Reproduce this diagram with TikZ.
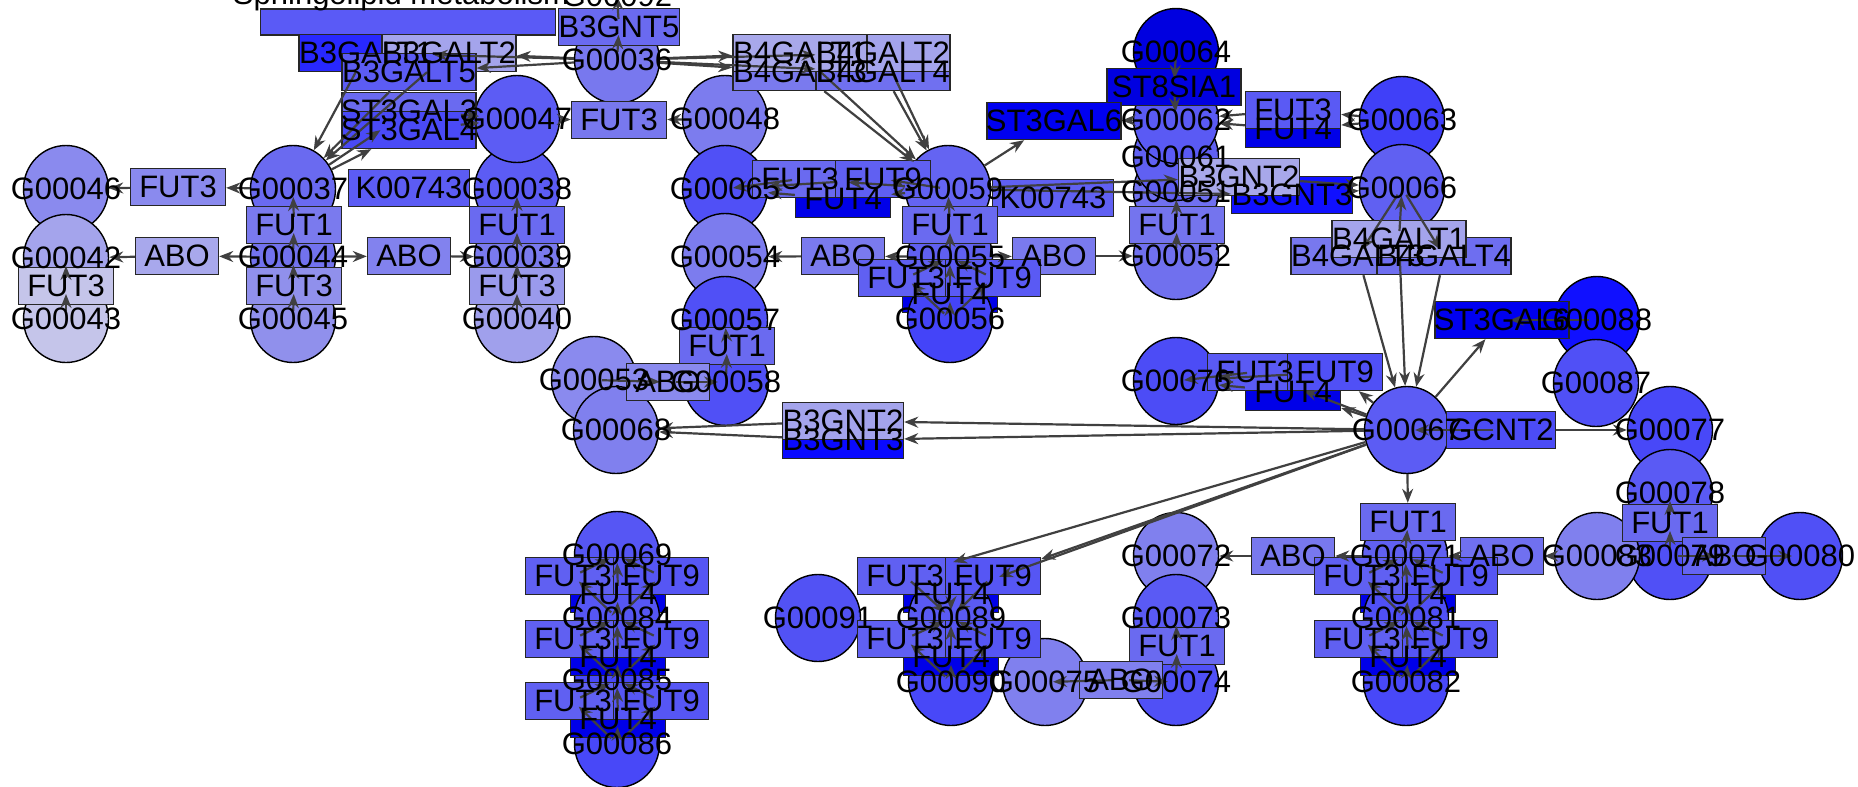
\documentclass[tikz,border=0pt]{standalone}
\usepackage{fontspec}
\setmainfont{Liberation Sans}
\usetikzlibrary{shapes.geometric,arrows.meta}
\tikzset{
 cpd/.style={ellipse, draw=black, line width=1.4pt, minimum width=85pt, minimum height=87pt, inner sep=0pt},
 enz/.style={rectangle, draw=black!85, line width=1.4pt, minimum height=37pt, inner sep=0pt},
 lbl/.style={inner sep=0pt, font=\fontsize{31}{31}\selectfont, text=black},
 edge/.style={draw=black!75, line width=2.2pt, -{Stealth[length=14pt,width=11pt]}},
 cedge/.style={edge, shorten >=8pt, shorten <=8pt},
}
\newcommand\mkcpd[4]{\definecolor{k#1}{HTML}{#4}\node[cpd,fill=k#1] (#1) at (#2,#3) {};}
\newcommand\mkenz[5]{\definecolor{k#1}{HTML}{#5}\node[enz,fill=k#1,minimum width=#4pt] (#1) at (#2,#3) {};}
\newcommand\edgeB[2]{\draw[edge] (#1) -- (#2);}
\newcommand\edgeC[2]{\draw[cedge] (#1.center) -- (#2.center);}
\begin{document}
\begin{tikzpicture}[x=1pt,y=-1pt]
\fill[white] (0,0) rectangle (1858,787);
\useasboundingbox (0,0) rectangle (1858,787);
% boxes partly hidden by compounds
\mkenz{f4n55}{950}{294}{95}{0000E8}
\mkenz{f4n89}{951}{594}{95}{0000E8}
\mkenz{f4n81}{1408}{594}{95}{0000E8}
\mkenz{f4n84}{618}{594}{95}{0000E8}
\definecolor{ksph}{HTML}{5A5AF6}
\node[enz,fill=ksph,minimum width=295pt,minimum height=26pt] (sph) at (408,22) {};
% compounds
\mkcpd{c46}{66}{189}{8A8AEE}
\mkcpd{c42}{66}{258}{A4A4EC}
\mkcpd{c43}{66}{319}{C5C5EA}
\mkcpd{c37}{293}{189}{6A6AF0}
\mkcpd{c44}{293}{257}{7272EE}
\mkcpd{c45}{293}{319}{9090EC}
\mkcpd{c38}{517}{189}{5C5CF4}
\mkcpd{c39}{517}{257}{7A7AEE}
\mkcpd{c40}{517}{319}{A0A0EC}
\mkcpd{c47}{517}{119}{5C5CF4}
\mkcpd{c36}{617}{60}{7878EE}
\mkcpd{c48}{725}{119}{7C7CEE}
\mkcpd{c65}{725}{189}{5050F6}
\mkcpd{c54}{725}{257}{7C7CEE}
\mkcpd{c57}{725}{320}{5050F6}
\mkcpd{c58}{726}{382}{5050F6}
\mkcpd{c53}{594}{380}{8A8AEE}
\mkcpd{c68}{616}{430}{8080EE}
\mkcpd{c59}{948}{189}{6464F2}
\mkcpd{c55}{950}{257}{6060F0}
\mkcpd{c56}{950}{319}{4444F8}
\mkcpd{c64}{1176}{52}{0000E0}
\mkcpd{c52}{1176}{256}{7070EE}
\mkcpd{c51}{1176}{192}{7070F0}
\mkcpd{c61}{1176}{157}{6060F2}
\mkcpd{c62}{1176}{120}{5A5AF4}
\mkcpd{c63}{1402}{120}{4040F8}
\mkcpd{c66}{1402}{188}{6060F2}
\mkcpd{c88}{1597}{320}{1010FF}
\mkcpd{c87}{1596}{383}{5050F6}
\mkcpd{c77}{1670}{430}{4848F8}
\mkcpd{c78}{1670}{493}{5A5AF4}
\mkcpd{c79}{1670}{556}{5050F6}
\mkcpd{c80}{1800}{556}{5050F6}
\mkcpd{c83}{1597}{556}{8080EE}
\mkcpd{c67}{1407}{430}{5C5CF4}
\mkcpd{c76}{1176}{381}{4C4CF6}
\mkcpd{c71}{1405}{556}{6060F2}
\mkcpd{c72}{1176}{556}{8080EE}
\mkcpd{c73}{1176}{618}{5A5AF4}
\mkcpd{c74}{1176}{682}{5050F6}
\mkcpd{c75}{1045}{682}{8080EE}
\mkcpd{c81}{1406}{618}{5050F6}
\mkcpd{c82}{1406}{682}{4848F8}
\mkcpd{c89}{951}{618}{5A5AF4}
\mkcpd{c90}{951}{682}{4848F8}
\mkcpd{c91}{818}{618}{5252F4}
\mkcpd{c69}{617}{555}{5656F4}
\mkcpd{c84}{617}{618}{5656F4}
\mkcpd{c85}{617}{680}{4848F8}
\mkcpd{c86}{617}{744}{4848F8}
\coordinate (c92) at (617,-4);
% enzymes
\mkenz{f3n46}{178}{187}{95}{8A8AEE}
\mkenz{f3n42}{66}{286}{95}{C5C5EA}
\mkenz{ab42}{177}{256}{83}{A8A8EC}
\mkenz{f1n37}{294}{225}{95}{7A7AEE}
\mkenz{f3n44}{294}{286}{95}{9090EC}
\mkenz{ab39}{409}{256}{83}{8282EE}
\mkenz{k1}{409}{188}{121}{5C5CF4}
\mkenz{f1n38}{517}{225}{95}{6A6AF0}
\mkenz{f3n39}{517}{286}{95}{9A9AEC}
\mkenz{st3}{409}{111}{134}{6A6AF0}
\mkenz{st4}{409}{130}{134}{4A4AF6}
\mkenz{bt1}{366}{53}{134}{2828FF}
\mkenz{bt2}{449}{53}{134}{A4A4EC}
\mkenz{bt5}{409}{72}{134}{5C5CF4}
\mkenz{bn5}{619}{27}{121}{6A6AF0}
\mkenz{f3n48}{619}{120}{95}{7878EE}
\mkenz{gt3}{800}{72}{134}{7A7AEE}
\mkenz{gt4}{883}{72}{134}{7070F0}
\mkenz{gt2}{883}{53}{134}{A4A4EC}
\mkenz{gt1}{800}{53}{134}{A8A8EA}
\mkenz{f4n65}{843}{199}{95}{0000E8}
\mkenz{f3n65}{800}{179}{95}{6A6AF0}
\mkenz{f9n65}{883}{179}{95}{6060F2}
\mkenz{k2}{1053}{198}{121}{6060F2}
\mkenz{f1n59}{950}{225}{95}{6A6AF0}
\mkenz{ab54}{843}{256}{83}{7A7AEE}
\mkenz{ab52}{1054}{256}{83}{7A7AEE}
\mkenz{f3n55}{906}{278}{95}{6060F2}
\mkenz{f9n55}{993}{278}{95}{5A5AF4}
\mkenz{f1n57}{727}{346}{95}{6A6AF0}
\mkenz{ab53}{668}{382}{83}{8A8AEE}
\mkenz{bn3a}{843}{440}{121}{0A0AFF}
\mkenz{bn2a}{843}{421}{121}{A4A4EC}
\mkenz{st8}{1174}{87}{134}{0000E0}
\mkenz{st6a}{1054}{121}{134}{0000F0}
\mkenz{f4n62}{1293}{129}{95}{0000E8}
\mkenz{f3n62}{1293}{110}{95}{5A5AF4}
\mkenz{f1n52}{1177}{225}{95}{7474EE}
\mkenz{bn3b}{1292}{195}{121}{1010FF}
\mkenz{bn2b}{1239}{177}{121}{A8A8EA}
\mkenz{gt3b}{1358}{256}{134}{7878EE}
\mkenz{gt4b}{1444}{256}{134}{6E6EF0}
\mkenz{gt1b}{1399}{239}{134}{A4A4EC}
\mkenz{st6b}{1502}{320}{134}{0000F0}
\mkenz{gc}{1501}{430}{109}{4C4CF6}
\mkenz{f4n76}{1293}{392}{95}{0000E8}
\mkenz{f3n76}{1255}{372}{95}{5A5AF4}
\mkenz{f9n76}{1335}{372}{95}{5050F6}
\mkenz{f1n71}{1408}{522}{95}{6A6AF0}
\mkenz{ab72}{1293}{556}{83}{7878EE}
\mkenz{ab83}{1502}{556}{83}{7070F0}
\mkenz{f1n78}{1670}{523}{95}{6A6AF0}
\mkenz{ab80}{1724}{556}{83}{6464F2}
\mkenz{f3n81}{1362}{576}{95}{6060F2}
\mkenz{f9n81}{1450}{576}{95}{5656F4}
\mkenz{f4n82}{1408}{657}{95}{0000E8}
\mkenz{f3n82}{1362}{639}{95}{6060F2}
\mkenz{f9n82}{1450}{639}{95}{5656F4}
\mkenz{f1n73}{1177}{646}{95}{6A6AF0}
\mkenz{ab75}{1121}{680}{83}{8080EE}
\mkenz{f3n89}{905}{576}{95}{6060F2}
\mkenz{f9n89}{993}{576}{95}{5656F4}
\mkenz{f4n90}{951}{657}{95}{0000E8}
\mkenz{f3n90}{905}{639}{95}{6060F2}
\mkenz{f9n90}{993}{639}{95}{5656F4}
\mkenz{f3n84}{573}{576}{95}{6060F2}
\mkenz{f9n84}{661}{576}{95}{5656F4}
\mkenz{f4n85}{618}{657}{95}{0000E8}
\mkenz{f3n85}{573}{639}{95}{6060F2}
\mkenz{f9n85}{661}{639}{95}{5656F4}
\mkenz{f4n86}{618}{719}{95}{0000E8}
\mkenz{f3n86}{573}{701}{95}{6060F2}
\mkenz{f9n86}{661}{701}{95}{5656F4}
% connectors
\edgeB{c37}{f3n46}\edgeB{f3n46}{c46}
\edgeC{c44}{f1n37}\edgeC{f1n37}{c37}
\edgeC{c45}{f3n44}\edgeC{f3n44}{c44}
\edgeB{c44}{ab42}\edgeB{ab42}{c42}
\edgeC{c43}{f3n42}\edgeC{f3n42}{c42}
\edgeB{c44}{ab39}\edgeB{ab39}{c39}
\edgeC{c40}{f3n39}\edgeC{f3n39}{c39}
\edgeC{c39}{f1n38}\edgeC{f1n38}{c38}
\edgeB{c36}{bt1}\edgeB{c36}{bt2}\edgeB{c36}{bt5}
\edgeB{bt1}{c37}\edgeB{bt2}{c37}\edgeB{bt5}{c37}
\edgeB{c37}{st3}\edgeB{c37}{st4}
\draw[edge,shorten <=52pt,shorten >=38pt] (st3.center) -- (c47.center);
\draw[edge,shorten <=52pt,shorten >=38pt] (st4.center) -- (c47.center);
\edgeB{c47}{f3n48}\edgeB{c48}{f3n48}
\edgeC{c36}{bn5}
\draw[edge,shorten <=8pt] (bn5.center) -- (c92);
\edgeB{c36}{gt1}\edgeB{c36}{gt2}\edgeB{c36}{gt3}\edgeB{c36}{gt4}
\edgeB{gt1}{c59}\edgeB{gt2}{c59}\edgeB{gt3}{c59}\edgeB{gt4}{c59}
\edgeB{c59}{f3n65}\edgeC{c59}{f9n65}\edgeB{c59}{f4n65}
\edgeC{f3n65}{c65}\edgeB{f9n65}{c65}\edgeB{f4n65}{c65}
\edgeC{c55}{f1n59}\edgeC{f1n59}{c59}
\edgeB{c55}{ab54}\edgeB{ab54}{c54}
\edgeB{c55}{ab52}\edgeB{ab52}{c52}
\edgeC{c56}{f3n55}\edgeC{c56}{f9n55}\edgeC{c56}{f4n55}
\edgeC{f3n55}{c55}\edgeC{f9n55}{c55}\edgeC{f4n55}{c55}
\edgeC{c58}{f1n57}\edgeC{f1n57}{c57}
\edgeC{c53}{ab53}\edgeC{ab53}{c58}
\edgeB{c67}{bn2a}\edgeB{c67}{bn3a}\edgeB{bn2a}{c68}\edgeB{bn3a}{c68}
\edgeB{c59}{bn2b}\edgeB{c59}{bn3b}\edgeB{bn2b}{c66}\edgeB{bn3b}{c66}
\edgeB{c59}{st6a}\edgeB{c62}{st6a}
\edgeC{c64}{st8}\edgeC{st8}{c62}
\edgeB{c63}{f3n62}\edgeB{c63}{f4n62}\edgeB{f3n62}{c62}\edgeB{f4n62}{c62}
\edgeC{c52}{f1n52}\edgeC{f1n52}{c51}
\edgeC{c66}{gt3b}\edgeC{c66}{gt4b}\edgeC{gt1b}{c66}
\edgeB{gt1b}{c67}\edgeB{gt3b}{c67}\edgeB{gt4b}{c67}
\edgeB{c67}{st6b}\edgeC{c88}{st6b}
\edgeC{gc}{c67}\edgeB{gc}{c77}
\edgeB{c67}{f3n76}\edgeB{c67}{f9n76}\edgeB{c67}{f4n76}
\edgeC{f3n76}{c76}\edgeB{f9n76}{c76}\edgeB{f4n76}{c76}
\edgeB{c67}{f3n89}\edgeB{c67}{f9n89}\edgeB{c67}{f4n89}
\edgeC{f3n89}{c89}\edgeC{f9n89}{c89}\edgeC{f4n89}{c89}
\edgeC{c90}{f3n90}\edgeC{c90}{f9n90}\edgeC{c90}{f4n90}
\edgeC{f3n90}{c89}\edgeC{f9n90}{c89}\edgeC{f4n90}{c89}
\edgeB{c67}{f1n71}\edgeC{c71}{f1n71}
\edgeB{c71}{ab72}\edgeB{ab72}{c72}
\edgeB{c83}{ab83}\edgeB{ab83}{c71}
\edgeC{c79}{f1n78}\edgeC{f1n78}{c78}
\edgeC{c79}{ab80}\edgeC{ab80}{c80}
\edgeC{c74}{f1n73}\edgeC{f1n73}{c73}
\edgeC{ab75}{c75}\edgeC{ab75}{c74}
\edgeC{c81}{f3n81}\edgeC{c81}{f9n81}\edgeC{c81}{f4n81}
\edgeC{f3n81}{c71}\edgeC{f9n81}{c71}\edgeC{f4n81}{c71}
\edgeC{c82}{f3n82}\edgeC{c82}{f9n82}\edgeC{c82}{f4n82}
\edgeC{f3n82}{c81}\edgeC{f9n82}{c81}\edgeC{f4n82}{c81}
\edgeC{c84}{f3n84}\edgeC{c84}{f9n84}\edgeC{c84}{f4n84}
\edgeC{f3n84}{c69}\edgeC{f9n84}{c69}\edgeC{f4n84}{c69}
\edgeC{c85}{f3n85}\edgeC{c85}{f9n85}\edgeC{c85}{f4n85}
\edgeC{f3n85}{c84}\edgeC{f9n85}{c84}\edgeC{f4n85}{c84}
\edgeC{c86}{f3n86}\edgeC{c86}{f9n86}\edgeC{c86}{f4n86}
\edgeC{f3n86}{c85}\edgeC{f9n86}{c85}\edgeC{f4n86}{c85}
% labels
\foreach \n in {46,42,43,37,44,45,38,39,40,47,36,48,65,54,57,58,53,68,59,55,56,64,62,61,51,52,63,66,88,87,77,78,79,80,83,67,76,71,72,73,74,75,81,82,89,90,91,69,84,85,86}
  {\node[lbl] (l\n) at (c\n) {G000\n};}
\node[lbl] (l92) at (c92) {G00092};
\node[lbl] (lsph) at (401,-4) {Sphingolipid metabolism};
\foreach \n/\t in {f3n46/FUT3,f3n42/FUT3,ab42/ABO,f1n37/FUT1,f3n44/FUT3,ab39/ABO,k1/K00743,f1n38/FUT1,f3n39/FUT3,
  st3/ST3GAL3,st4/ST3GAL4,bt1/B3GALT1,bt2/B3GALT2,bt5/B3GALT5,bn5/B3GNT5,f3n48/FUT3,
  gt3/B4GALT3,gt4/B4GALT4,gt2/B4GALT2,gt1/B4GALT1,f4n65/FUT4,f3n65/FUT3,f9n65/FUT9,k2/K00743,f1n59/FUT1,
  ab54/ABO,ab52/ABO,f4n55/FUT4,f3n55/FUT3,f9n55/FUT9,f1n57/FUT1,ab53/ABO,bn3a/B3GNT3,bn2a/B3GNT2,
  st8/ST8SIA1,st6a/ST3GAL6,f4n62/FUT4,f3n62/FUT3,f1n52/FUT1,bn3b/B3GNT3,bn2b/B3GNT2,
  gt3b/B4GALT3,gt4b/B4GALT4,gt1b/B4GALT1,st6b/ST3GAL6,gc/GCNT2,f4n76/FUT4,f3n76/FUT3,f9n76/FUT9,
  f1n71/FUT1,ab72/ABO,ab83/ABO,f1n78/FUT1,ab80/ABO,f4n81/FUT4,f3n81/FUT3,f9n81/FUT9,
  f4n82/FUT4,f3n82/FUT3,f9n82/FUT9,f1n73/FUT1,ab75/ABO,f4n89/FUT4,f3n89/FUT3,f9n89/FUT9,
  f4n90/FUT4,f3n90/FUT3,f9n90/FUT9,f4n84/FUT4,f3n84/FUT3,f9n84/FUT9,f4n85/FUT4,f3n85/FUT3,f9n85/FUT9,
  f4n86/FUT4,f3n86/FUT3,f9n86/FUT9}
  {\node[lbl] (t\n) at (\n) {\t};}
\end{tikzpicture}
\end{document}
